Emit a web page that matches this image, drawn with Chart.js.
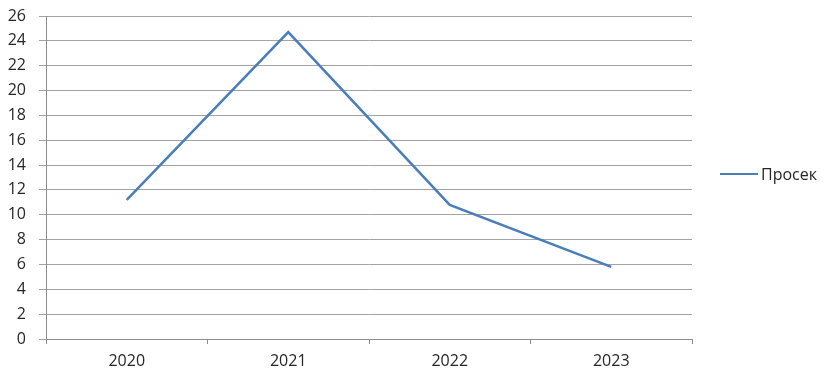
<!DOCTYPE html>
<html>
<head>
<meta charset="utf-8">
<script src="https://cdn.jsdelivr.net/npm/chart.js@4/dist/chart.umd.min.js"></script>
<style>
    html, body { margin: 0; padding: 0; background: #fff; }
    #wrap { position: relative; width: 825px; height: 371px; }
    #legend {
        position: absolute; left: 720px; top: 163px;
        font: 16px 'Open Sans', sans-serif; color: #262626;
        display: flex; align-items: center; white-space: nowrap;
    }
    #legend .swatch { display: inline-block; width: 38px; height: 0; border-top: 2.5px solid; margin-right: 3px; }
</style>
</head>
<body>
<div id="wrap"><canvas id="myChart"></canvas><div id="legend"></div></div>
<script>
const years = ["2020", "2021", "2022", "2023"];
const prosek = [11.2, 24.7, 10.8, 5.8];
const yTicks = [0, 2, 4, 6, 8, 10, 12, 14, 16, 18, 20, 22, 24, 26];

function init() {
    const ctx = document.getElementById('myChart');
    Chart.defaults.font.family = "'Open Sans', sans-serif";
    Chart.defaults.color = "#262626";

    const chart = new Chart(ctx, {
        type: 'line',
        data: {
            labels: years,
            datasets: [
                {
                    label: "Просек",
                    data: prosek,
                    borderColor: "#4a7ebb",
                    backgroundColor: "#4a7ebb",
                    borderWidth: 2.5,
                    pointRadius: 0,
                    tension: 0,
                }
            ],
        },
        options: {
            responsive: true,
            maintainAspectRatio: false,
            animation: false,
            layout: {
                padding: { left: 7, right: 133, top: 16, bottom: 0 }
            },
            plugins: {
                legend: { display: false },
                tooltip: { enabled: false },
            },
            scales: {
                x: {
                    offset: true,
                    afterFit: (axis) => { axis.height = 32; },
                    grid: {
                        offset: true,
                        drawOnChartArea: false,
                        drawTicks: true,
                        tickLength: 5,
                        color: "#8c8c8c",
                    },
                    border: { color: "#8c8c8c" },
                    ticks: { font: { size: 16 }, padding: 8 }
                },
                y: {
                    min: 0,
                    max: 26,
                    afterBuildTicks: (axis) => {
                        axis.ticks = yTicks.map(v => ({ value: v }));
                    },
                    afterFit: (axis) => {
                        axis.width = 39;
                        axis.paddingTop = 0;
                        axis.paddingBottom = 0;
                    },
                    grid: {
                        color: "#a3a3a3",
                        tickLength: 7,
                    },
                    border: { color: "#8c8c8c" },
                    ticks: { font: { size: 16 }, padding: 13 }
                }
            }
        },
    });

    // legend built from the dataset itself
    const legend = document.getElementById('legend');
    chart.data.datasets.forEach(ds => {
        const sw = document.createElement('span');
        sw.className = 'swatch';
        sw.style.borderColor = ds.borderColor;
        const txt = document.createElement('span');
        txt.textContent = ds.label;
        legend.appendChild(sw);
        legend.appendChild(txt);
    });
}

window.onload = () => {
    init();
};
</script>
</body>
</html>
